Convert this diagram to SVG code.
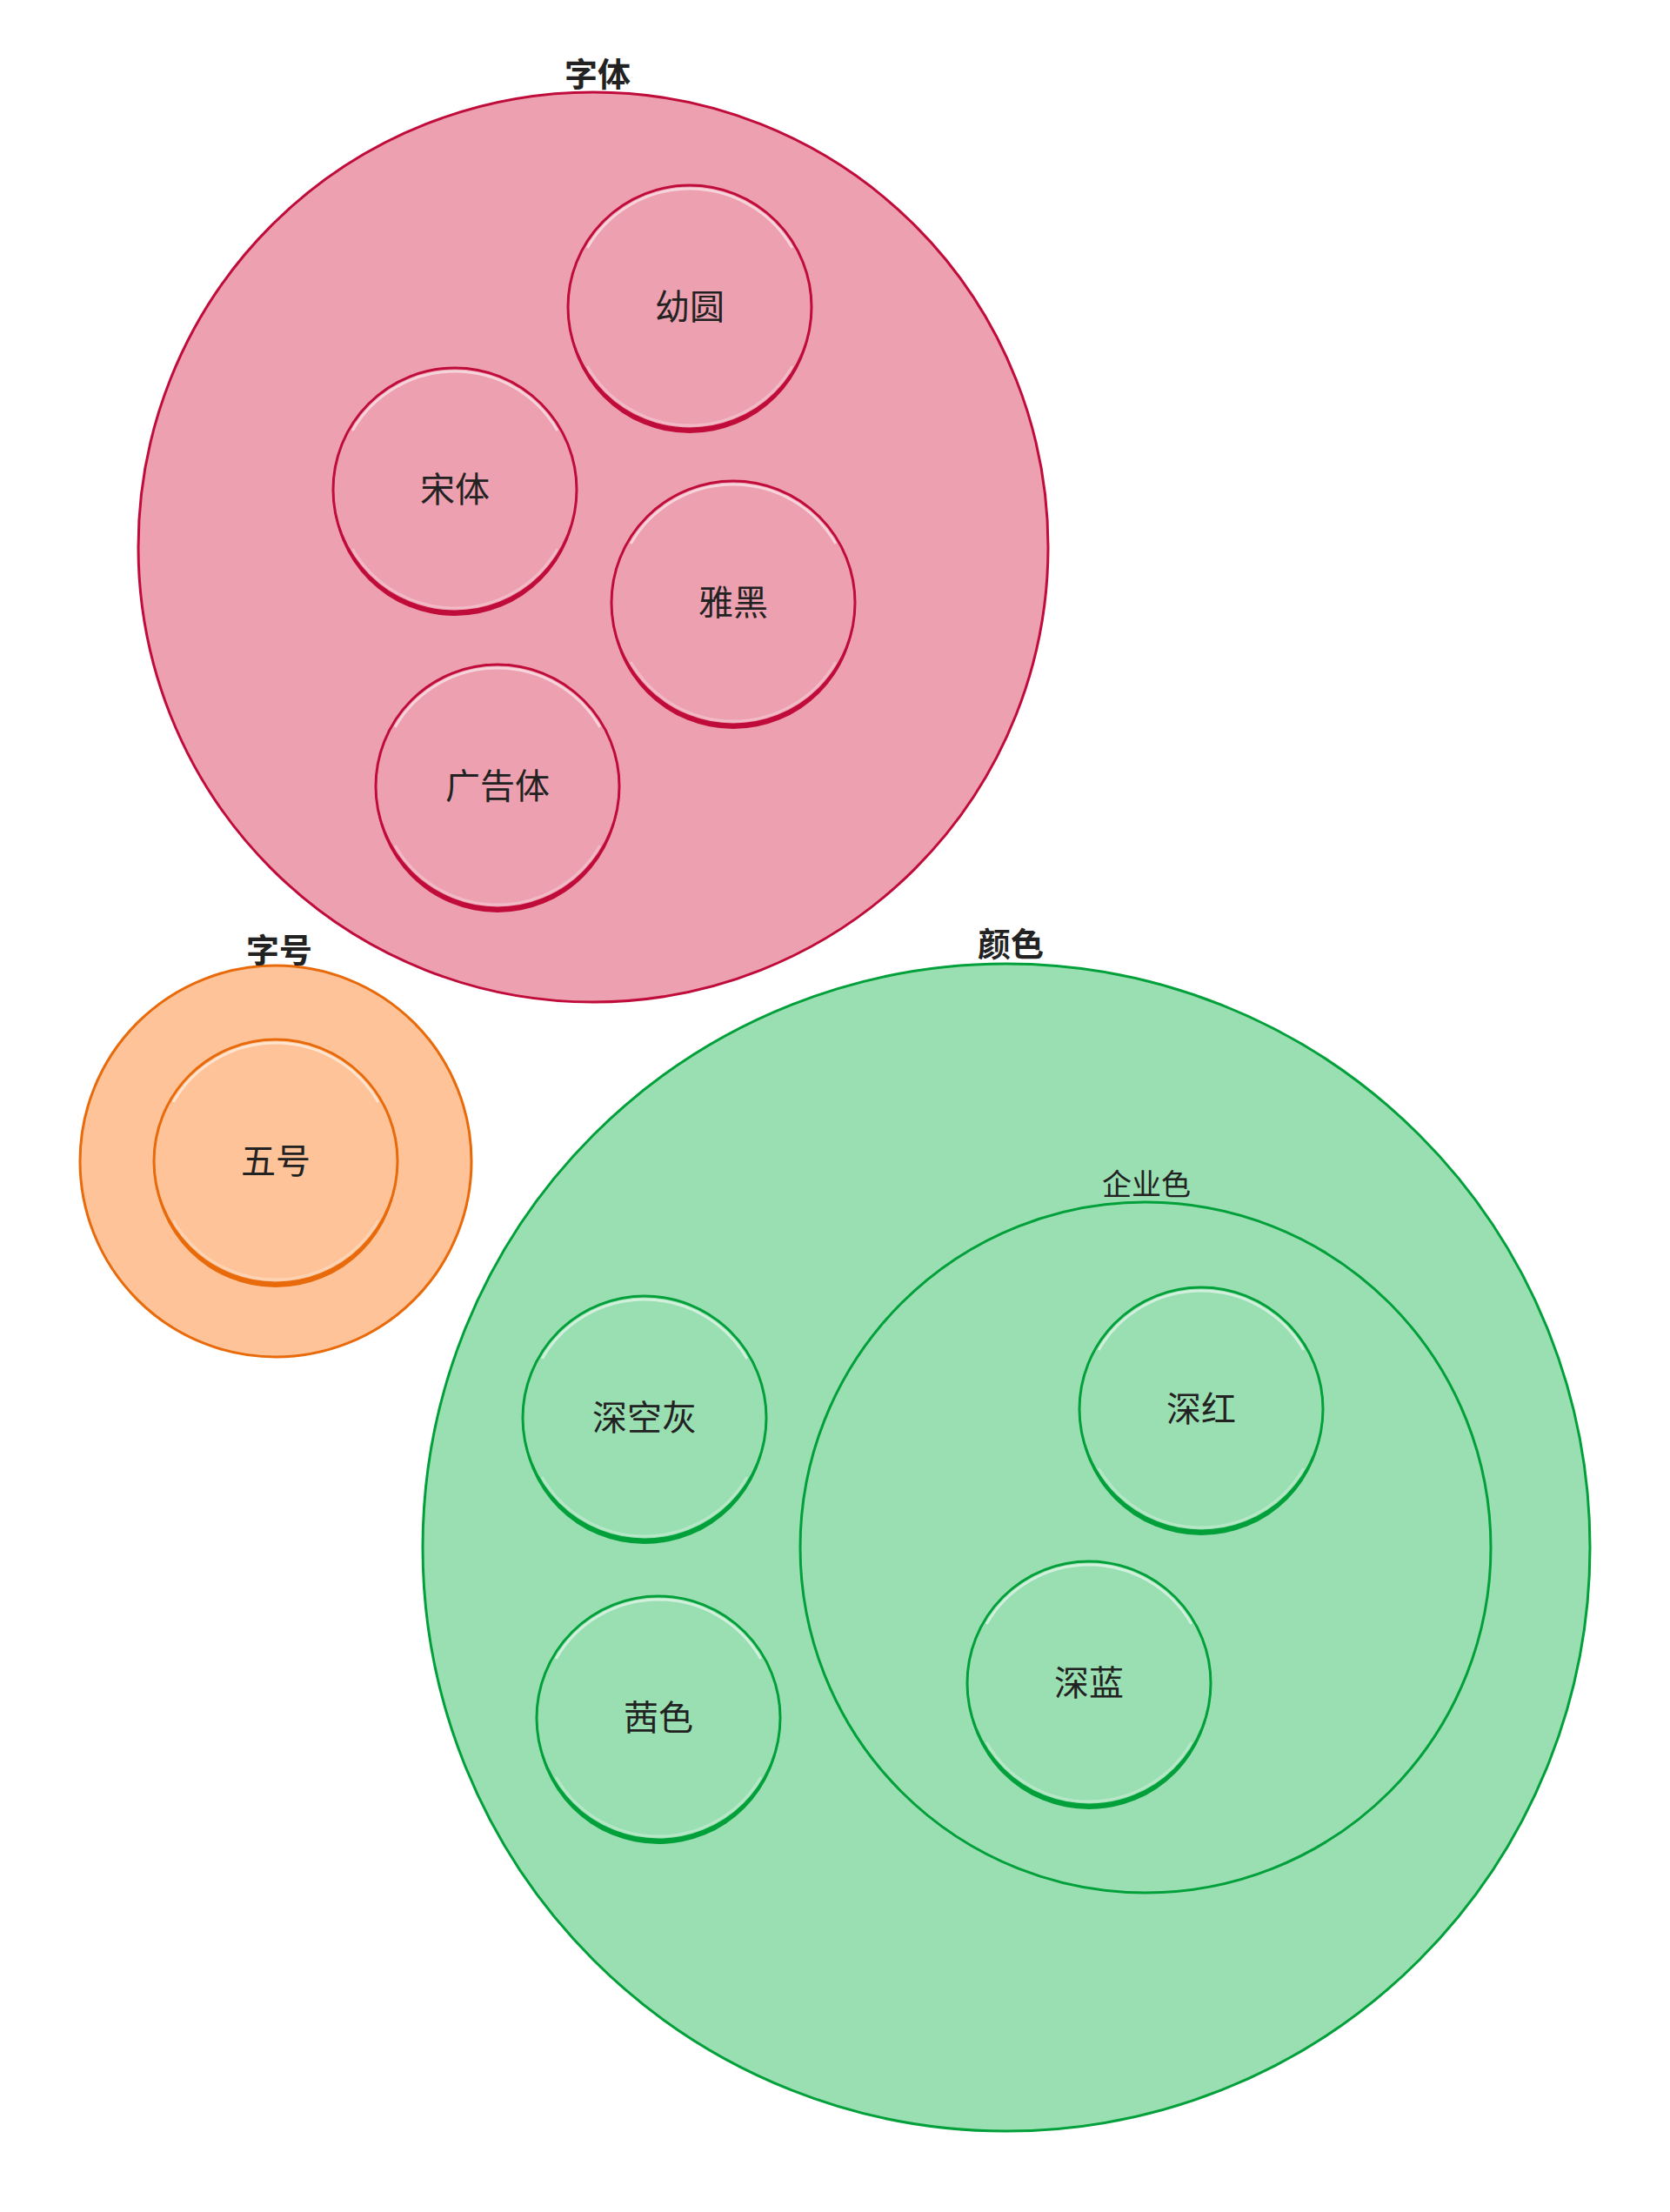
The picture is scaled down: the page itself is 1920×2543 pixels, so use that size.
<svg xmlns="http://www.w3.org/2000/svg" width="1920" height="2543" viewBox="0 0 1920 2543">
<style>
text{font-family:"Noto Sans CJK SC","Noto Sans CJK JP",sans-serif;fill:#222;text-anchor:middle}
.title{font-size:38px;font-weight:bold}
.sub{font-size:34px}
.lbl{font-size:40px}
.red .c{fill:#eca0b0;stroke:#c00c3a}
.red .sh{fill:#c00c3a}
.org .c{fill:#fec398;stroke:#e86a0a}
.org .sh{fill:#e86a0a}
.grn .c{fill:#9adfb2;stroke:#02a03a}
.grn .sh{fill:#02a03a}
.c{stroke-width:3}
.hl{fill:none;stroke:#fff;stroke-opacity:0.55;stroke-width:3}
.lo{fill:none;stroke:#fff;stroke-opacity:0.28;stroke-width:3}
</style>
<g id="connectors"/>
<g id="n-font" class="red">
<circle class="c" cx="682" cy="629" r="523"/>
<text class="title" x="687" y="99">字体</text>
</g>
<g id="n-youyuan" class="red" transform="translate(793,353)">
<circle class="sh" cy="5" r="140"/><circle class="c" r="140"/>
<path class="hl" d="M-117.8-68A136 136 0 0 1 117.8-68"/><path class="lo" d="M117.8 68A136 136 0 0 1-117.8 68"/>
<text class="lbl" y="14">幼圆</text></g>
<g id="n-songti" class="red" transform="translate(523,563)">
<circle class="sh" cy="5" r="140"/><circle class="c" r="140"/>
<path class="hl" d="M-117.8-68A136 136 0 0 1 117.8-68"/><path class="lo" d="M117.8 68A136 136 0 0 1-117.8 68"/>
<text class="lbl" y="14">宋体</text></g>
<g id="n-yahei" class="red" transform="translate(843,693)">
<circle class="sh" cy="5" r="140"/><circle class="c" r="140"/>
<path class="hl" d="M-117.8-68A136 136 0 0 1 117.8-68"/><path class="lo" d="M117.8 68A136 136 0 0 1-117.8 68"/>
<text class="lbl" y="14">雅黑</text></g>
<g id="n-guanggao" class="red" transform="translate(572,904)">
<circle class="sh" cy="5" r="140"/><circle class="c" r="140"/>
<path class="hl" d="M-117.8-68A136 136 0 0 1 117.8-68"/><path class="lo" d="M117.8 68A136 136 0 0 1-117.8 68"/>
<text class="lbl" y="14">广告体</text></g>
<g id="n-size" class="org">
<circle class="c" cx="317" cy="1335" r="225"/>
<text class="title" x="321" y="1106">字号</text>
</g>
<g id="n-wuhao" class="org" transform="translate(317,1335)">
<circle class="sh" cy="5" r="140"/><circle class="c" r="140"/>
<path class="hl" d="M-117.8-68A136 136 0 0 1 117.8-68"/><path class="lo" d="M117.8 68A136 136 0 0 1-117.8 68"/>
<text class="lbl" y="14">五号</text></g>
<g id="n-color" class="grn">
<circle class="c" cx="1157" cy="1779" r="671"/>
<text class="title" x="1162" y="1099">颜色</text>
</g>
<g id="n-corp" class="grn">
<circle class="c" cx="1317" cy="1779" r="397"/>
<text class="sub" x="1318" y="1374">企业色</text>
</g>
<g id="n-shenhong" class="grn" transform="translate(1381,1620)">
<circle class="sh" cy="5" r="140"/><circle class="c" r="140"/>
<path class="hl" d="M-117.8-68A136 136 0 0 1 117.8-68"/><path class="lo" d="M117.8 68A136 136 0 0 1-117.8 68"/>
<text class="lbl" y="14">深红</text></g>
<g id="n-shenlan" class="grn" transform="translate(1252,1935)">
<circle class="sh" cy="5" r="140"/><circle class="c" r="140"/>
<path class="hl" d="M-117.8-68A136 136 0 0 1 117.8-68"/><path class="lo" d="M117.8 68A136 136 0 0 1-117.8 68"/>
<text class="lbl" y="14">深蓝</text></g>
<g id="n-shenkonghui" class="grn" transform="translate(741,1630)">
<circle class="sh" cy="5" r="140"/><circle class="c" r="140"/>
<path class="hl" d="M-117.8-68A136 136 0 0 1 117.8-68"/><path class="lo" d="M117.8 68A136 136 0 0 1-117.8 68"/>
<text class="lbl" y="14">深空灰</text></g>
<g id="n-qianse" class="grn" transform="translate(757,1975)">
<circle class="sh" cy="5" r="140"/><circle class="c" r="140"/>
<path class="hl" d="M-117.8-68A136 136 0 0 1 117.8-68"/><path class="lo" d="M117.8 68A136 136 0 0 1-117.8 68"/>
<text class="lbl" y="14">茜色</text></g>
</svg>
